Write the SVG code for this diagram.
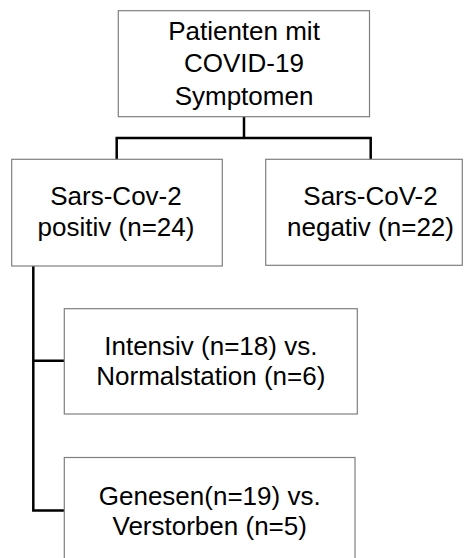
<svg xmlns="http://www.w3.org/2000/svg" width="464" height="558" viewBox="0 0 464 558">
<style>
.box{fill:#ffffff;stroke:#7f7f7f;stroke-width:1.2}
.lbl{font-family:"Liberation Sans",Arial,sans-serif;font-size:26px;fill:#000000;text-anchor:middle}
.conn{fill:none;stroke:#000000;stroke-width:2.5;stroke-linecap:square}
</style>
<rect width="464" height="558" fill="#ffffff"/>
<g id="connectors">
<path class="conn" d="M244 117V138M116.7 159V138H370.7V159"/>
<path class="conn" d="M33.3 266V510.5H64M33.3 360.7H64"/>
</g>
<g id="n_top">
<rect class="box" x="118.3" y="10.7" width="251.2" height="106"/>
<text class="lbl" x="244" y="40">Patienten mit</text>
<text class="lbl" x="244" y="72.3">COVID-19</text>
<text class="lbl" x="244" y="104.5">Symptomen</text>
</g>
<g id="n_pos">
<rect class="box" x="11.7" y="159.3" width="210.6" height="106.7"/>
<text class="lbl" x="116" y="205">Sars-Cov-2</text>
<text class="lbl" x="116" y="235.5">positiv (n=24)</text>
</g>
<g id="n_neg">
<rect class="box" x="265.7" y="159.3" width="196.6" height="106"/>
<text class="lbl" x="370.5" y="205">Sars-CoV-2</text>
<text class="lbl" x="370.5" y="235.5">negativ (n=22)</text>
</g>
<g id="n_int">
<rect class="box" x="64.3" y="308.7" width="293" height="105.3"/>
<text class="lbl" x="210.8" y="355">Intensiv (n=18) vs.</text>
<text class="lbl" x="210.8" y="385">Normalstation (n=6)</text>
</g>
<g id="n_gen">
<rect class="box" x="64.3" y="457.5" width="290.7" height="110"/>
<text class="lbl" x="209.7" y="505">Genesen(n=19) vs.</text>
<text class="lbl" x="209.7" y="535">Verstorben (n=5)</text>
</g>
</svg>
